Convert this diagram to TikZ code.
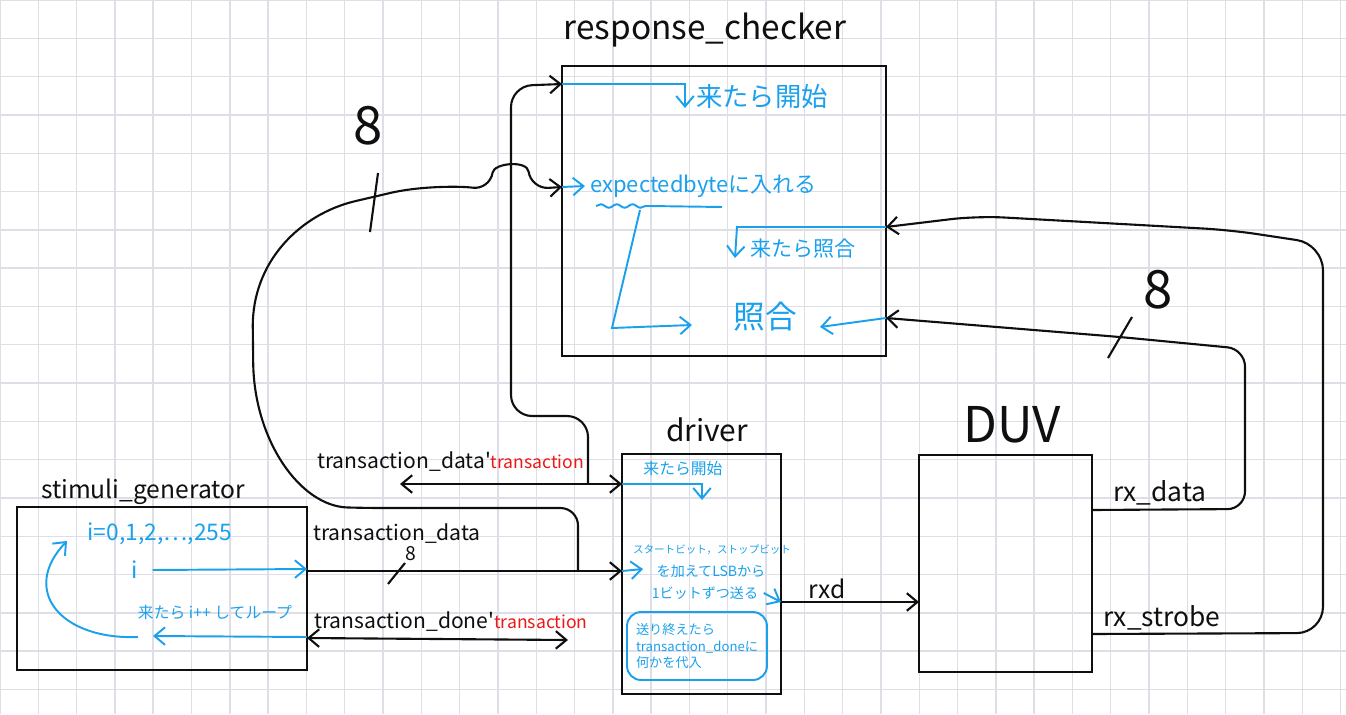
\documentclass[tikz,border=0pt]{standalone}
\usepackage{fontspec}
\setmainfont{Noto Sans CJK JP}
\usetikzlibrary{arrows.meta,decorations.pathmorphing}
\definecolor{pen}{RGB}{15,15,15}
\definecolor{ink}{RGB}{27,161,236}
\definecolor{redink}{RGB}{238,22,22}
\definecolor{gridc}{RGB}{222,222,230}
\tikzset{
  wire/.style={draw=pen, line width=1.2pt},
  bwire/.style={draw=ink, line width=1.1pt},
  block/.style={draw=pen, line width=1.2pt, inner sep=0pt, outer sep=0pt},
  title/.style={text=pen, font=\fontsize{17}{20}\selectfont},
  sig/.style={text=pen, font=\fontsize{12}{14}\selectfont, inner sep=0pt},
  note/.style={text=ink, inner sep=0pt},
  buswidth/.style={text=pen, font=\fontsize{30}{32}\selectfont, inner sep=0pt},
}
\begin{document}
\begin{tikzpicture}[x=0.02cm, y=-0.02cm, >={Straight Barb[length=6pt,width=10pt]}]
\useasboundingbox (0,0) rectangle (1346,714);
\foreach \gx in {0,...,35} \draw [gridc, line width=0.8pt] ({\gx*38.3},0) to ({\gx*38.3},714);
\foreach \gy in {0,...,18} \draw [gridc, line width=0.8pt] (0,{\gy*38.3}) to (1346,{\gy*38.3});

\node [block, minimum width=6.48cm, minimum height=5.8cm] (rc) at (724,211) {};
\node [title, font=\fontsize{19}{22}\selectfont] (rcT) at (705,30) {response\_checker};
\node [block, minimum width=5.8cm, minimum height=3.26cm] (stim) at (162,588.5) {};
\node [title, font=\fontsize{14}{16}\selectfont] (stimT) at (143,492) {stimuli\_generator};
\node [block, minimum width=3.18cm, minimum height=4.8cm] (drv) at (701.5,574) {};
\node [title] (drvT) at (707,430) {driver};
\node [block, minimum width=3.46cm, minimum height=4.34cm] (duv) at (1005.5,563.5) {};
\node [title, font=\fontsize{28}{30}\selectfont] (duvT) at (1012,425) {DUV};

\coordinate (tdL) at (400,484);
\coordinate (tapA) at (588,484);
\coordinate (tapB) at (578,571);
\coordinate (tdnR) at (568,640);

\draw [wire, <->] (tdL) to (drv.west |- 0,484);
\draw [wire, ->, rounded corners=12pt] (tapA) -- (588,416) -- (511,416) -- (511,86) -- (rc.west |- 0,84);
\draw [wire, ->] (stim.east |- 0,571) to (drv.west |- 0,571);
\draw [wire, ->, rounded corners=10pt] (tapB) -- (578,508) -- (365,508) .. controls (300,506) and (254,440) .. (253,345) .. controls (252,262) and (300,214) .. (373,197) .. controls (420,186) and (460,186) .. (490,190) .. controls (494,163) and (527,160) .. (531,189) -- (rc.west |- 0,187);
\draw [wire, <->] (stim.east |- 0,638) to (tdnR);
\draw [wire, ->] (drv.east |- 0,602) to (duv.west |- 0,602);
\draw [wire, ->, rounded corners=10pt] (duv.east |- 0,510) -- (1245,509) -- (1245,349) -- (1120,337) -- (rc.east |- 0,318);
\draw [wire, ->, rounded corners=15pt] (duv.east |- 0,634) -- (1323,633) -- (1323,244) -- (1230,230) -- (977,216) -- (rc.east |- 0,227);

\draw [wire] (378,173) to (370,232);
\node [buswidth] (bw1) at (368,126) {8};
\draw [wire] (1132,317) to (1108,358);
\node [buswidth] (bw2) at (1158,290) {8};
\draw [wire] (405,563) to (388,584);
\node [buswidth, font=\fontsize{11}{12}\selectfont] (bw3) at (411,554) {8};

\node [sig, anchor=west] (tdpT) at (317,462) {transaction\_data\textquotesingle\textcolor{redink}{\fontsize{10}{12}\selectfont transaction}};
\node [sig] (tdT) at (397,534) {transaction\_data};
\node [sig, anchor=west] (tdnT) at (314,622) {transaction\_done\textquotesingle\textcolor{redink}{\fontsize{10}{12}\selectfont transaction}};
\node [sig, font=\fontsize{14}{16}\selectfont] (rxdT) at (827,589) {rxd};
\node [sig, font=\fontsize{15}{17}\selectfont] (rxdataT) at (1160,493) {rx\_data};
\node [sig, font=\fontsize{15}{17}\selectfont] (rxstbT) at (1162,618) {rx\_strobe};

\node [note, font=\fontsize{15}{17}\selectfont] (rcStart) at (762,97) {来たら開始};
\draw [bwire, ->] (rc.west |- 0,84) -- (685,84) -- (685,108);
\draw [bwire, ->] (rc.west |- 0,187) to (585,186);
\node [note, anchor=west, font=\fontsize{12.5}{14}\selectfont] (rcExp) at (590,186) {expectedbyteに入れる};
\draw [bwire, decorate, decoration={snake, amplitude=1pt, segment length=9pt}] (596,206) to (650,206);
\draw [bwire] (650,206) to (722,207);
\draw [bwire, ->] (640,210) -- (612,328) -- (692,325);
\node [note, font=\fontsize{18}{20}\selectfont] (rcCmp) at (765,317) {照合};
\draw [bwire, ->] (rc.east |- 0,318) to (820,327);
\draw [bwire, ->] (rc.east |- 0,227) -- (737,227) -- (735,258);
\node [note, font=\fontsize{12}{14}\selectfont] (rcCmpW) at (803,249) {来たら照合};

\node [note, font=\fontsize{9}{11}\selectfont] (drvStart) at (683,468) {来たら開始};
\draw [bwire, ->] (drv.west |- 0,484) -- (702,484) -- (702,500);
\node [note, font=\fontsize{6}{7}\selectfont] (drvL1) at (712,550) {スタートビット，ストップビット};
\node [note, font=\fontsize{8}{10}\selectfont] (drvL2) at (711,571) {を加えてLSBから};
\node [note, font=\fontsize{8}{10}\selectfont] (drvL3) at (705,593) {1ビットずつ送る};
\draw [bwire, ->] (drv.west |- 0,571) to (643,569);
\draw [bwire, ->] (drvL3.east) ++(3pt,0) to (drv.east |- 0,602);
\node [note, draw=ink, line width=1.1pt, rounded corners=8pt, minimum width=2.8cm, minimum height=1.36cm, inner sep=2pt, align=left, font=\fontsize{7.5}{9.5}\selectfont] (drvDone) at (697,646) {送り終えたら\\transaction\_doneに\\何かを代入};

\node [note, font=\fontsize{13}{15}\selectfont] (stimRange) at (160,534) {i=0,1,2,…,255};
\node [note, font=\fontsize{13}{15}\selectfont] (stimI) at (135,570) {i};
\draw [bwire, ->] ([xshift=8pt]stimI.east) to (stim.east |- 0,569);
\node [note, font=\fontsize{9}{11}\selectfont] (stimLoop) at (215,612) {来たら i++ してループ};
\draw [bwire, ->] (stim.east |- 0,637) to (153,636);
\draw [bwire, ->] (138,637) .. controls (60,640) and (20,590) .. (67,541);
\end{tikzpicture}
\end{document}
